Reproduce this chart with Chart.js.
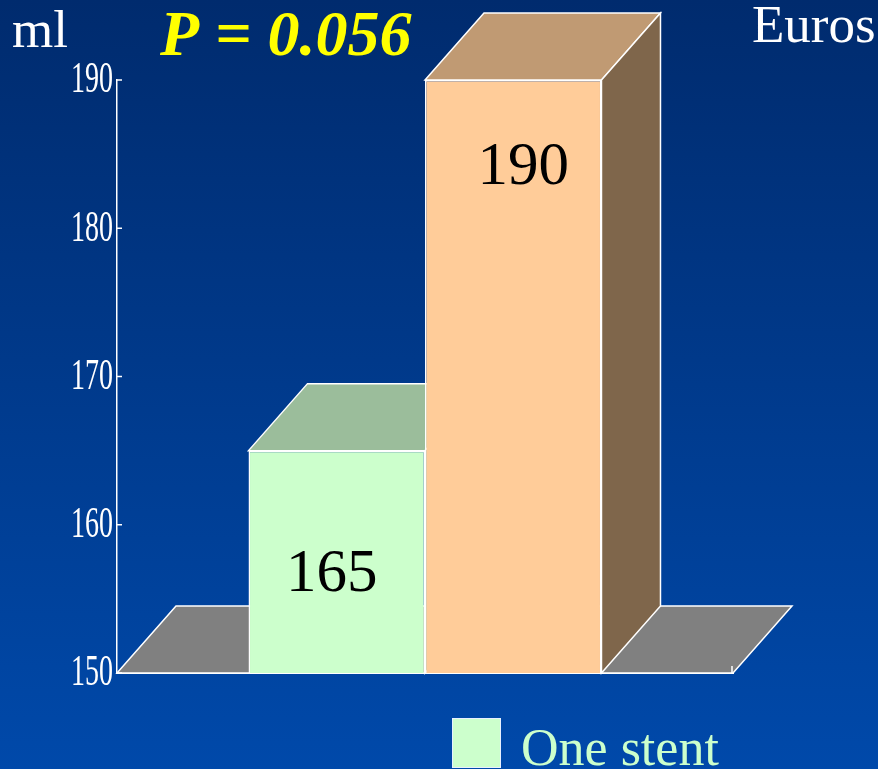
<!DOCTYPE html>
<html lang="en">
<head>
<meta charset="UTF-8">
<title>ml / Euros</title>
<script src="https://cdn.jsdelivr.net/npm/chart.js@4.4.0/dist/chart.umd.min.js"></script>
<style>
  html, body { margin: 0; padding: 0; }
  body { width: 878px; height: 769px; overflow: hidden; background: linear-gradient(#002b6e, #0049aa); }
</style>
</head>
<body>
<canvas id="grafico" width="878" height="769"></canvas>
<script>
// dados
const categorias = ['Contrast'];
const series = ['One stent', 'Two stents'];
const valores = [165, 190];
const ticksY = [150, 160, 170, 180, 190];

// estilo
const corFrente = ['#ccffcc', '#ffcc99'];
const corTopo = ['#9bbd9b', '#c09a73'];
const corLado = ['#7f9a7f', '#7f664b'];
const desvioRotulo = [[-5, 140], [10, 104]];
const prof = { dx: 59, dy: -67 };
const serif = '"Liberation Serif", "Times New Roman", serif';

function face(ctx, pts, cor) {
    ctx.beginPath();
    ctx.moveTo(pts[0][0], pts[0][1]);
    for (let i = 1; i < pts.length; i++) ctx.lineTo(pts[i][0], pts[i][1]);
    ctx.closePath();
    ctx.fillStyle = cor;
    ctx.fill();
    ctx.strokeStyle = '#ffffff';
    ctx.lineWidth = 1.5;
    ctx.stroke();
}

const caixa3d = {
    id: 'caixa3d',
    beforeDatasetsDraw(chart) {
        const ctx = chart.ctx;
        const a = chart.chartArea;
        const { dx, dy } = prof;
        ctx.save();
        // chão
        face(ctx, [[a.left, a.bottom], [a.right, a.bottom], [a.right + dx, a.bottom + dy], [a.left + dx, a.bottom + dy]], '#808080');
        // topo e lado de cada barra
        chart.data.datasets.forEach((ds, i) => {
            const bar = chart.getDatasetMeta(i).data[0];
            const base = Math.min(bar.base, a.bottom);
            const x0 = bar.x - bar.width / 2, x1 = bar.x + bar.width / 2;
            face(ctx, [[x0, bar.y], [x1, bar.y], [x1 + dx, bar.y + dy], [x0 + dx, bar.y + dy]], corTopo[i]);
            face(ctx, [[x1, bar.y], [x1 + dx, bar.y + dy], [x1 + dx, base + dy], [x1, base]], corLado[i]);
        });
        ctx.restore();
    },
    afterDraw(chart) {
        const ctx = chart.ctx;
        const a = chart.chartArea;
        const escala = chart.scales.y;
        ctx.save();

        // marcas e rótulos do eixo y
        ctx.strokeStyle = '#ffffff';
        ctx.lineWidth = 1.5;
        ctx.fillStyle = '#ffffff';
        ctx.font = '28px ' + serif;
        ctx.textAlign = 'right';
        ctx.textBaseline = 'middle';
        escala.ticks.forEach(t => {
            const y = escala.getPixelForValue(t.value);
            ctx.beginPath();
            ctx.moveTo(a.left, y);
            ctx.lineTo(a.left + 5, y);
            ctx.stroke();
            ctx.save();
            ctx.translate(a.left - 4, y + 1);
            ctx.scale(1, 1.55);
            ctx.fillText(String(t.value), 0, 0);
            ctx.restore();
        });
        ctx.beginPath();
        ctx.moveTo(a.right - 1, a.bottom);
        ctx.lineTo(a.right - 1, a.bottom - 7);
        ctx.stroke();

        // valores nas barras
        ctx.fillStyle = '#000000';
        ctx.font = '61px ' + serif;
        ctx.textAlign = 'center';
        ctx.textBaseline = 'alphabetic';
        chart.data.datasets.forEach((ds, i) => {
            const bar = chart.getDatasetMeta(i).data[0];
            ctx.fillText(String(ds.data[0]), bar.x + desvioRotulo[i][0], bar.y + desvioRotulo[i][1]);
        });

        // textos do topo
        ctx.textAlign = 'left';
        ctx.fillStyle = '#ffffff';
        ctx.font = '53px ' + serif;
        ctx.fillText('ml', 12, 47);
        ctx.font = '53px ' + serif;
        ctx.fillText('Euros', 752, 42);
        ctx.fillStyle = '#ffff00';
        ctx.font = 'italic bold 64px ' + serif;
        ctx.fillText('P = 0.056', 160, 55);

        // legenda
        const ds0 = chart.data.datasets[0];
        ctx.fillStyle = ds0.backgroundColor;
        ctx.fillRect(452, 718, 49, 50);
        ctx.strokeStyle = '#e8f0ff';
        ctx.lineWidth = 1;
        ctx.strokeRect(452.5, 718.5, 48, 49);
        ctx.fillStyle = '#ccffcc';
        ctx.font = '52px ' + serif;
        ctx.fillText(ds0.label, 521, 765);
        ctx.restore();
    }
};

new Chart(document.getElementById('grafico'), {
    type: 'bar',
    data: {
        labels: categorias,
        datasets: series.map((nome, i) => ({
            label: nome,
            data: [valores[i]],
            backgroundColor: corFrente[i],
            borderColor: '#ffffff',
            borderWidth: 1.5,
            barPercentage: 1,
            categoryPercentage: 0.573
        }))
    },
    options: {
        responsive: false,
        animation: false,
        devicePixelRatio: 1,
        layout: { padding: { left: 117, right: 145, top: 80, bottom: 88 } },
        plugins: { legend: { display: false }, tooltip: { enabled: false } },
        scales: {
            x: {
                ticks: { display: false },
                grid: { display: false },
                border: { color: '#ffffff', width: 2 }
            },
            y: {
                min: ticksY[0],
                max: ticksY[ticksY.length - 1],
                ticks: { display: false, stepSize: 10 },
                grid: { drawOnChartArea: false, drawTicks: false },
                border: { color: '#ffffff', width: 1.5 }
            }
        }
    },
    plugins: [caixa3d]
});
</script>
</body>
</html>
